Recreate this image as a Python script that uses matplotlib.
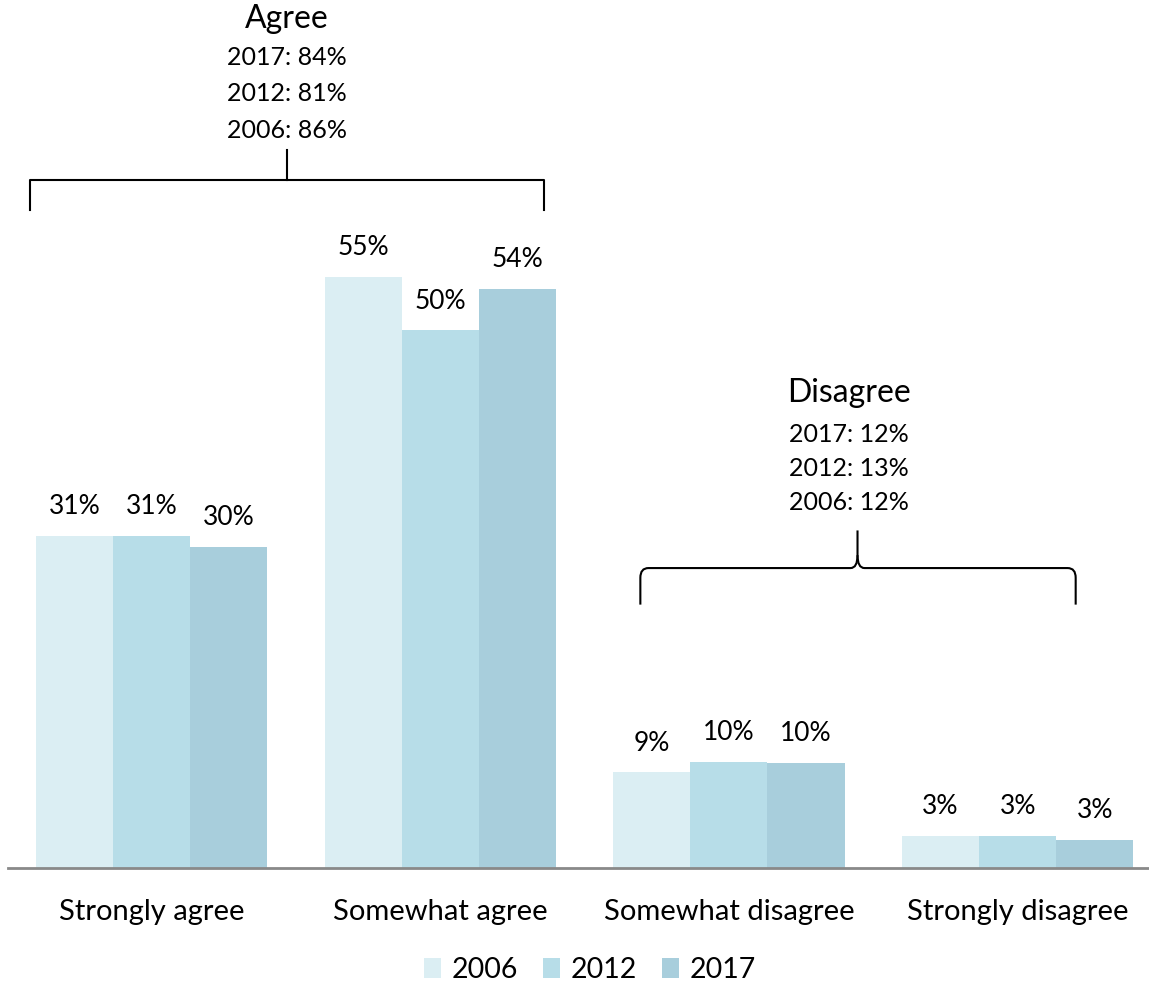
import numpy as np
import matplotlib
matplotlib.use("Agg")
import matplotlib.pyplot as plt
from matplotlib.path import Path
from matplotlib.patches import PathPatch, Patch

plt.rcParams['font.family'] = ['Lato', 'DejaVu Sans']

categories = ['Strongly agree', 'Somewhat agree', 'Somewhat disagree', 'Strongly disagree']
years = ['2006', '2012', '2017']
values_2006 = [30.9, 55.0, 8.9, 3.0]
values_2012 = [30.9, 50.0, 9.9, 3.0]
values_2017 = [29.9, 53.9, 9.8, 2.6]
labels_2006 = ['31%', '55%', '9%', '3%']
labels_2012 = ['31%', '50%', '10%', '3%']
labels_2017 = ['30%', '54%', '10%', '3%']
agree_lines = ['2017: 84%', '2012: 81%', '2006: 86%']
disagree_lines = ['2017: 12%', '2012: 13%', '2006: 12%']
colors = ['#DBEEF3', '#B7DDE8', '#A8CEDC']

series = [values_2006, values_2012, values_2017]
series_labels = [labels_2006, labels_2012, labels_2017]

W, H = 1149, 984
fig = plt.figure(figsize=(W / 100, H / 100), dpi=100)
ax = fig.add_axes([8 / W, (H - 868) / H, 1 - 8 / W, 868 / H])

x = np.arange(len(categories))
w = 0.267
for k, (vals, labs) in enumerate(zip(series, series_labels)):
    pos = x + (k - 1) * w
    ax.bar(pos, vals, width=w, color=colors[k], edgecolor='none', label=years[k])
    for px, v, lab in zip(pos, vals, labs):
        ax.annotate(lab, (px, v), xytext=(0, 21), textcoords='offset points',
                    ha='center', va='center', fontsize=19)

ax.set_xlim(-0.497, 3.455)
ax.set_ylim(0, 80.74)
for s in ['top', 'right', 'left']:
    ax.spines[s].set_visible(False)
ax.spines['bottom'].set_color('#898989')
ax.spines['bottom'].set_linewidth(2)
ax.set_yticks([])
ax.set_xticks(x)
ax.set_xticklabels(categories, fontsize=21)
ax.tick_params(axis='x', length=0, pad=22)

# Agree bracket
xl, xr, xm = -0.421, 1.360, 0.470
ax.plot([xl, xl, xr, xr], [61.2, 64.0, 64.0, 61.2], color='black', lw=1.5, clip_on=False)
ax.plot([xm, xm], [64.0, 66.8], color='black', lw=1.5, clip_on=False)
ax.text(xm, 79.0, 'Agree', ha='center', va='center', fontsize=23)
for i, t in enumerate(agree_lines):
    ax.text(xm, 75.4 - i * 3.4, t, ha='center', va='center', fontsize=18)

# Disagree curly brace
bl, br, bm = (640 - 151.5) / 288.5, (1075 - 151.5) / 288.5, (857 - 151.5) / 288.5
yb, yh, yt = 24.5, 27.9, 31.4
dx = 0.028
dm = 0.024
verts = [(bl, yb), (bl, yh - 0.9), (bl, yh), (bl + dx, yh),
         (bm - dm, yh), (bm, yh), (bm, yh + 1.2), (bm, yt)]
codes = [Path.MOVETO, Path.LINETO, Path.CURVE3, Path.CURVE3,
         Path.LINETO, Path.CURVE3, Path.CURVE3, Path.LINETO]
verts2 = [(br, yb), (br, yh - 0.9), (br, yh), (br - dx, yh),
          (bm + dm, yh), (bm, yh), (bm, yh + 1.2)]
codes2 = [Path.MOVETO, Path.LINETO, Path.CURVE3, Path.CURVE3,
          Path.LINETO, Path.CURVE3, Path.CURVE3]
for v, c in [(verts, codes), (verts2, codes2)]:
    ax.add_patch(PathPatch(Path(v, c), facecolor='none', edgecolor='black', lw=1.5, clip_on=False))
dm_x = (848 - 151.5) / 288.5
ax.text(dm_x, (868 - 393) / 10.75, 'Disagree', ha='center', va='center', fontsize=23)
for i, t in enumerate(disagree_lines):
    ax.text(dm_x, (868 - 435) / 10.75 - i * 3.15, t, ha='center', va='center', fontsize=18)

handles = [Patch(facecolor=colors[k], edgecolor='none', label=years[k]) for k in range(3)]
fig.legend(handles=handles, loc='center', bbox_to_anchor=(590 / W, (H - 970) / H), ncol=3,
           frameon=False, fontsize=20.5, handlelength=0.6, handleheight=0.75,
           handletextpad=0.35, columnspacing=0.9)

fig.savefig('out.png', dpi=100)
